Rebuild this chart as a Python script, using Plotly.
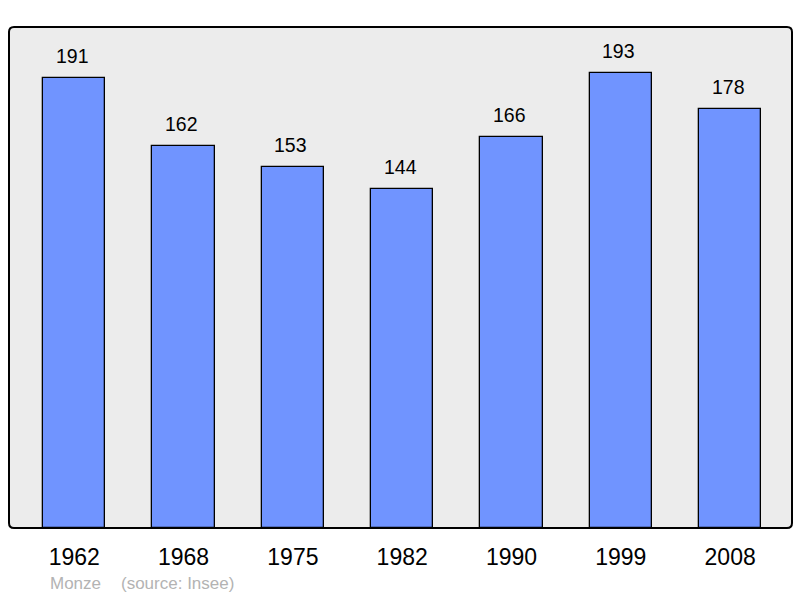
import plotly.graph_objects as go

years = ["1962", "1968", "1975", "1982", "1990", "1999", "2008"]
population = [191, 162, 153, 144, 166, 193, 178]
commune = "Monze"
source = "(source: Insee)"

W, H = 800, 598
ml, mr, mt, mb = 9, 8, 27, 70
pw, ph = W - ml - mr, H - mt - mb
FONT = "Liberation Sans, Arial, sans-serif"

fig = go.Figure()
fig.add_trace(go.Bar(
    x=list(range(len(years))), y=population,
    width=0.57,
    marker=dict(color="#7094ff", line=dict(color="#000000", width=1.3)),
    hoverinfo="skip",
))

for i, v in enumerate(population):
    fig.add_annotation(x=i, y=v, text=str(v), showarrow=False,
                       xref="x", yref="y", yanchor="bottom", yshift=9, xshift=-2,
                       font=dict(size=19.5, color="#000000", family=FONT))

def rounded(r_px):
    rx, ry = r_px / pw, r_px / ph
    return (f"M {rx},0 L {1-rx},0 Q 1,0 1,{ry} L 1,{1-ry} Q 1,1 {1-rx},1 "
            f"L {rx},1 Q 0,1 0,{1-ry} L 0,{ry} Q 0,0 {rx},0 Z")

fig.add_shape(type="path", path=rounded(5), xref="paper", yref="paper",
              fillcolor="#ececec", line=dict(width=0), layer="below")
fig.add_shape(type="path", path=rounded(5), xref="paper", yref="paper",
              fillcolor="rgba(0,0,0,0)", line=dict(color="#000000", width=2), layer="above")

fy = -(583 - mt - ph) / ph
fig.add_annotation(x=(75 - ml) / pw, y=fy, xref="paper", yref="paper",
                   text=commune, showarrow=False, xanchor="center", yanchor="middle",
                   font=dict(size=17, color="#b3b3b3", family=FONT))
fig.add_annotation(x=(177 - ml) / pw, y=fy, xref="paper", yref="paper",
                   text=source, showarrow=False, xanchor="center", yanchor="middle",
                   font=dict(size=17, color="#b3b3b3", family=FONT))

fig.update_layout(
    width=W, height=H,
    margin=dict(l=ml, r=mr, t=mt, b=mb),
    paper_bgcolor="#ffffff", plot_bgcolor="rgba(0,0,0,0)",
    showlegend=False,
    bargap=0,
    xaxis=dict(range=[-0.597, 6.566], tickmode="array",
               tickvals=list(range(len(years))), ticktext=years,
               showgrid=False, zeroline=False, showline=False,
               ticks="outside", ticklen=8, tickcolor="rgba(0,0,0,0)",
               tickfont=dict(size=23, color="#000000", family=FONT),
               fixedrange=True),
    yaxis=dict(range=[0, 212.6], visible=False, showgrid=False, zeroline=False,
               fixedrange=True),
)

fig.write_html("out.html", config={"displayModeBar": False},
               post_script="document.body.style.margin='0';document.body.style.overflow='hidden';")
